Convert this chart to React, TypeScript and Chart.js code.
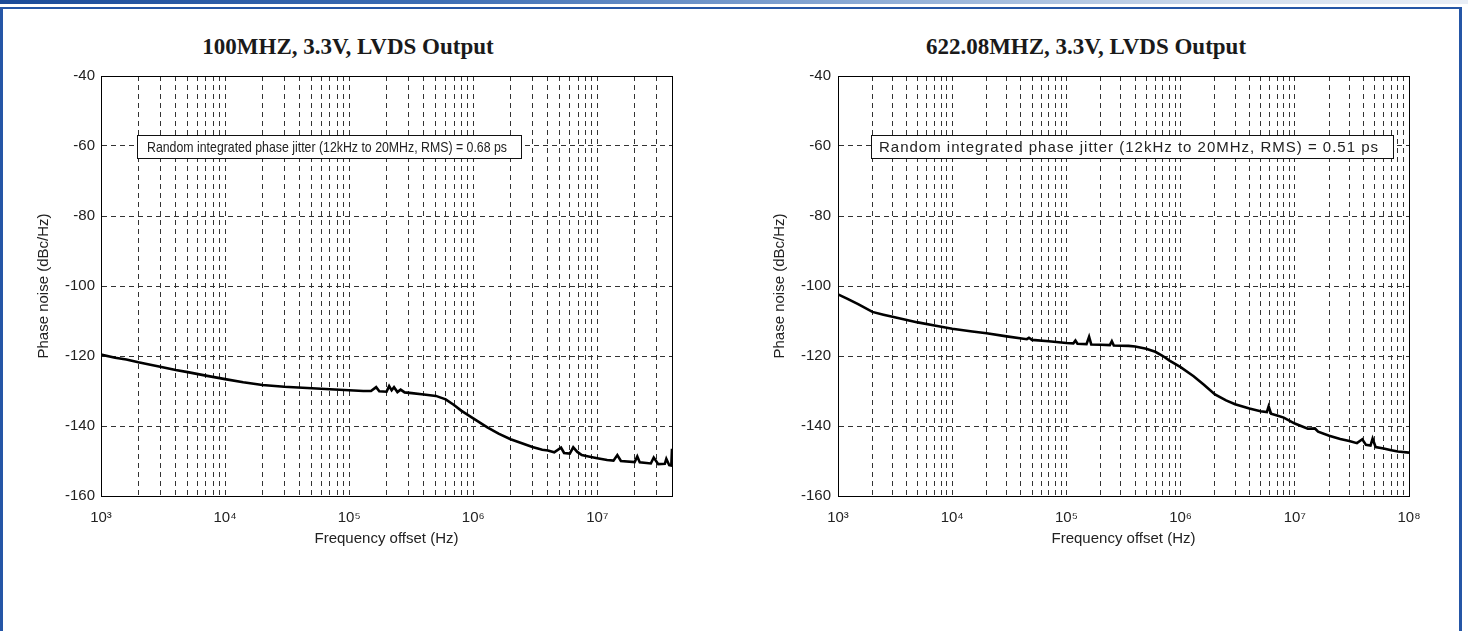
import React, { useEffect, useRef } from 'react';
import { Chart, registerables } from 'chart.js';

Chart.register(...registerables);

// ---------- text ----------
const LEFT_TITLE = '100MHZ, 3.3V, LVDS Output';
const RIGHT_TITLE = '622.08MHZ, 3.3V, LVDS Output';
const LEFT_NOTE = 'Random integrated phase jitter (12kHz to 20MHz, RMS) = 0.68 ps';
const RIGHT_NOTE = 'Random integrated phase jitter (12kHz to 20MHz, RMS) = 0.51 ps';
const X_TITLE = 'Frequency offset (Hz)';
const Y_TITLE = 'Phase noise (dBc/Hz)';

// ---------- axes ----------
const Y_TICKS = [-160, -140, -120, -100, -80, -60, -40];
const DECADES = [1e3, 1e4, 1e5, 1e6, 1e7, 1e8];
const GRID_MULTIPLIERS = [1, 2, 3, 4, 5, 6, 7, 8, 9];
const X_MIN = 1e3;
const LEFT_X_MAX = 4e7;
const RIGHT_X_MAX = 1e8;

// ---------- series: 100 MHz ----------
const LEFT_FREQ = [
  1000, 1300, 1600, 2000, 2500, 3000, 4000, 5000, 7000, 10000,
  14000, 20000, 30000, 50000, 70000, 100000, 130000, 150000, 165000, 175000,
  200000, 210000, 220000, 230000, 245000, 260000, 280000, 320000, 400000, 500000,
  600000, 700000, 800000, 1000000, 1300000, 1600000, 2000000, 2500000, 3000000, 3600000,
  4000000, 4500000, 5100000, 5400000, 6000000, 6400000, 6900000, 7500000, 8500000, 10000000,
  12000000, 13500000, 14500000, 15500000, 20000000, 21000000, 22000000, 27000000, 28500000, 31000000,
  35000000, 36000000, 38000000, 39500000, 40000000,
];
const LEFT_NOISE = [
  -119.6, -120.5, -121.0, -121.8, -122.5, -123.1, -124.0, -124.6, -125.6, -126.6,
  -127.5, -128.3, -128.8, -129.2, -129.5, -129.8, -130.0, -130.0, -128.9, -130.1,
  -130.2, -128.6, -129.8, -128.9, -130.3, -129.6, -130.4, -130.6, -131.0, -131.4,
  -132.4, -134.0, -135.6, -137.8, -140.4, -142.2, -143.8, -145.0, -146.0, -146.8,
  -147.0, -147.5, -146.2, -147.7, -147.9, -146.1, -147.4, -148.3, -148.7, -149.2,
  -149.7, -149.9, -148.3, -150.0, -150.3, -148.7, -150.4, -150.7, -149.0, -150.9,
  -150.8, -149.4, -151.2, -151.3, -146.5,
];

// ---------- series: 622.08 MHz ----------
const RIGHT_FREQ = [
  1000, 1200, 1500, 2000, 2500, 3000, 4000, 5000, 7000, 10000,
  15000, 20000, 30000, 45000, 47000, 50000, 70000, 100000, 115000, 120000,
  125000, 150000, 158000, 165000, 200000, 240000, 250000, 260000, 350000, 400000,
  500000, 600000, 700000, 800000, 1000000, 1300000, 1600000, 2000000, 2500000, 3000000,
  4000000, 5000000, 5700000, 5900000, 6200000, 7000000, 8000000, 10000000, 13000000, 15000000,
  16000000, 20000000, 25000000, 30000000, 35000000, 39000000, 42000000, 46000000, 48000000, 51000000,
  60000000, 70000000, 80000000, 100000000,
];
const RIGHT_NOISE = [
  -102.4, -103.6, -105.2, -107.4, -108.2, -108.8, -109.7, -110.4, -111.3, -112.2,
  -113.0, -113.5, -114.4, -115.2, -114.8, -115.4, -115.8, -116.3, -116.4, -115.6,
  -116.5, -116.6, -114.5, -116.7, -116.8, -116.9, -115.8, -117.0, -117.1, -117.3,
  -117.9, -118.8, -120.0, -121.3, -123.2, -125.8, -128.2, -131.0, -132.7, -133.8,
  -135.0, -135.8, -136.0, -134.4, -136.5, -137.0, -137.6, -139.3, -140.8, -140.7,
  -141.6, -142.8, -143.7, -144.3, -144.9, -143.8, -145.4, -145.6, -143.6, -146.0,
  -146.4, -146.9, -147.3, -147.6,
];

const FONT = '"Liberation Sans", Arial, sans-serif';
const SUP = ['⁰', '¹', '²', '³', '⁴', '⁵', '⁶', '⁷', '⁸', '⁹'];

function gridValues(max: number) {
  const out: number[] = [];
  DECADES.forEach((d) => {
    GRID_MULTIPLIERS.forEach((m) => {
      const v = d * m;
      if (v >= X_MIN && v <= max * 1.0001) out.push(v);
    });
  });
  if (out[out.length - 1] < max) out.push(max);
  return out;
}

function decadeLabel(v: number) {
  const e = Math.round(Math.log10(v));
  if (Math.abs(Math.pow(10, e) - v) > v * 1e-6) return '';
  return '10' + String(e).split('').map((c) => SUP[+c]).join('');
}

const notePlugin = {
  id: 'noteBox',
  afterDraw(chart: any, _args: any, opts: any) {
    const { ctx, chartArea } = chart;
    ctx.save();
    // plot frame
    ctx.strokeStyle = '#000';
    ctx.lineWidth = 1;
    ctx.strokeRect(
      Math.round(chartArea.left) + 0.5,
      Math.round(chartArea.top) + 0.5,
      Math.round(chartArea.right - chartArea.left),
      Math.round(chartArea.bottom - chartArea.top)
    );
    // note box
    const x = Math.round(chartArea.left + opts.dx);
    const y = Math.round(chartArea.top + opts.dy);
    ctx.fillStyle = '#fff';
    ctx.fillRect(x, y, opts.w, opts.h);
    ctx.strokeStyle = '#111';
    ctx.strokeRect(x + 0.5, y + 0.5, opts.w, opts.h);
    ctx.font = `${opts.size}px ${FONT}`;
    ctx.fillStyle = '#222';
    ctx.textBaseline = 'middle';
    ctx.textAlign = 'left';
    const natural = ctx.measureText(opts.text).width;
    if (opts.textW > natural) {
      const sp = (opts.textW - natural) / (opts.text.length - 1);
      (ctx as any).letterSpacing = `${sp}px`;
      ctx.fillText(opts.text, x + opts.pad, y + opts.h / 2 + 1);
    } else {
      ctx.translate(x + opts.pad, y + opts.h / 2 + 1);
      ctx.scale(opts.textW / natural, 1);
      ctx.fillText(opts.text, 0, 0);
    }
    ctx.restore();
  },
};

type Spec = {
  freq: number[];
  noise: number[];
  xMax: number;
  note: string;
  noteDx: number;
  noteW: number;
  notePad: number;
  noteTextW: number;
  noteSize: number;
  yWidth: number;
  yTitlePad: number;
  yTickPad: number;
  padRight: number;
};

function makeConfig(s: Spec): any {
  return {
    type: 'line',
    data: {
      datasets: [
        {
          data: s.freq.map((f, i) => ({ x: f, y: s.noise[i] })),
          borderColor: '#000',
          borderWidth: 2.6,
          pointRadius: 0,
          tension: 0,
          fill: false,
        },
      ],
    },
    plugins: [notePlugin],
    options: {
      animation: false,
      responsive: false,
      devicePixelRatio: 1,
      layout: { padding: { left: 0, right: s.padRight, top: 16, bottom: 0 } },
      plugins: {
        legend: { display: false },
        tooltip: { enabled: false },
        title: { display: false },
        noteBox: {
          text: s.note,
          dx: s.noteDx,
          dy: 59,
          w: s.noteW,
          h: 23,
          pad: s.notePad,
          textW: s.noteTextW,
          size: s.noteSize,
        },
      },
      scales: {
        x: {
          type: 'logarithmic',
          min: X_MIN,
          max: s.xMax,
          afterBuildTicks: (scale: any) => {
            scale.ticks = gridValues(s.xMax).map((v) => ({ value: v }));
          },
          afterFit: (scale: any) => {
            scale.height = 60;
          },
          ticks: {
            autoSkip: false,
            maxRotation: 0,
            minRotation: 0,
            padding: 13,
            color: '#222',
            font: { family: FONT, size: 15 },
            callback: (v: any) => decadeLabel(Number(v)),
          },
          grid: { color: '#333', lineWidth: 1, drawTicks: false },
          border: { display: true, color: '#000', dash: [5, 4] },
          title: {
            display: true,
            text: X_TITLE,
            color: '#222',
            font: { family: FONT, size: 15 },
            padding: { top: 0, bottom: 8 },
          },
        },
        y: {
          type: 'linear',
          min: -160,
          max: -40,
          afterBuildTicks: (scale: any) => {
            scale.ticks = Y_TICKS.map((v) => ({ value: v }));
          },
          afterFit: (scale: any) => {
            scale.width = s.yWidth;
          },
          ticks: {
            padding: s.yTickPad,
            color: '#222',
            font: { family: FONT, size: 15 },
          },
          grid: { color: '#333', lineWidth: 1, drawTicks: false },
          border: { display: true, color: '#000', dash: [5, 4] },
          title: {
            display: true,
            text: Y_TITLE,
            color: '#222',
            font: { family: FONT, size: 15 },
            padding: { top: s.yTitlePad, bottom: 0 },
          },
        },
      },
    },
  };
}

function PhaseChart(props: { spec: Spec; left: number; top: number; width: number; height: number }) {
  const ref = useRef<HTMLCanvasElement>(null);
  useEffect(() => {
    const chart = new Chart(ref.current as HTMLCanvasElement, makeConfig(props.spec));
    return () => chart.destroy();
  }, []);
  return (
    <canvas
      ref={ref}
      width={props.width}
      height={props.height}
      style={{
        position: 'absolute',
        left: props.left,
        top: props.top,
        width: props.width,
        height: props.height,
        display: 'block',
      }}
    />
  );
}

const LEFT_SPEC: Spec = {
  freq: LEFT_FREQ,
  noise: LEFT_NOISE,
  xMax: LEFT_X_MAX,
  note: LEFT_NOTE,
  noteDx: 36,
  noteW: 384,
  notePad: 10,
  noteTextW: 360,
  noteSize: 15,
  yWidth: 101,
  yTitlePad: 35,
  yTickPad: 6,
  padRight: 28,
};

const RIGHT_SPEC: Spec = {
  freq: RIGHT_FREQ,
  noise: RIGHT_NOISE,
  xMax: RIGHT_X_MAX,
  note: RIGHT_NOTE,
  noteDx: 33,
  noteW: 522,
  notePad: 8,
  noteTextW: 499,
  noteSize: 15,
  yWidth: 78,
  yTitlePad: 11,
  yTickPad: 7,
  padRight: 31,
};

const titleStyle = (center: number, size: number): React.CSSProperties => ({
  position: 'absolute',
  left: center - 250,
  width: 500,
  top: 34,
  lineHeight: '26px',
  textAlign: 'center',
  fontFamily: '"Liberation Serif", "Times New Roman", serif',
  fontWeight: 'bold',
  fontSize: size,
  color: '#1a1a1a',
  whiteSpace: 'nowrap',
});

export default function App() {
  return (
    <div
      style={{
        position: 'fixed',
        left: 0,
        top: 0,
        width: 1468,
        height: 631,
        overflow: 'hidden',
        background: '#fff',
      }}
    >
      <div
        style={{
          position: 'absolute',
          left: 0,
          top: 0,
          width: 1468,
          height: 4,
          background: 'linear-gradient(to right, #1b4b99 0%, #3d6eb5 30%, #8fadd6 60%, #d3deed 85%, #e9eef6 100%)',
        }}
      />
      <div
        style={{
          position: 'absolute',
          left: 0,
          top: 7,
          width: 1462,
          height: 640,
          boxSizing: 'border-box',
          borderTop: '2px solid #2556a6',
          borderLeft: '3px solid #2556a6',
          borderRight: '3px solid #2556a6',
        }}
      />
      <div style={titleStyle(348, 23)}>{LEFT_TITLE}</div>
      <div style={titleStyle(1086, 23)}>{RIGHT_TITLE}</div>
      <PhaseChart spec={LEFT_SPEC} left={0} top={60} width={700} height={496} />
      <PhaseChart spec={RIGHT_SPEC} left={760} top={60} width={680} height={496} />
    </div>
  );
}
